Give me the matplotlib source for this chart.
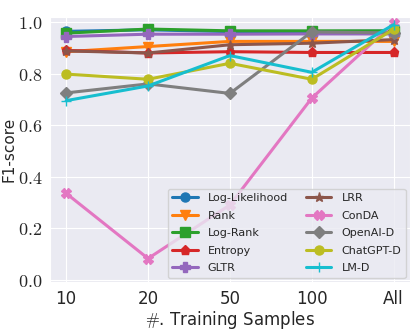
import matplotlib
matplotlib.use("Agg")
from matplotlib import pyplot as plt
import seaborn as sns

sns.set_style("darkgrid")
plt.rcParams['font.family'] = ['DejaVu Sans']
plt.rcParams['mathtext.fontset'] = 'cm'

# data
samples = ['10', '20', '50', '100', 'All']
methods = ['Log-Likelihood', 'Rank', 'Log-Rank', 'Entropy', 'GLTR',
           'LRR', 'ConDA', 'OpenAI-D', 'ChatGPT-D', 'LM-D']
log_likelihood = [0.964, 0.970, 0.963, 0.963, 0.965]
rank = [0.885, 0.905, 0.925, 0.925, 0.925]
log_rank = [0.957, 0.973, 0.966, 0.966, 0.966]
entropy = [0.890, 0.880, 0.885, 0.882, 0.882]
gltr = [0.944, 0.953, 0.953, 0.954, 0.954]
lrr = [0.888, 0.880, 0.912, 0.918, 0.932]
conda = [0.335, 0.082, 0.29, 0.705, 0.995]
openai_d = [0.725, 0.760, 0.723, 0.962, 0.958]
chatgpt_d = [0.798, 0.778, 0.840, 0.778, 0.972]
lm_d = [0.695, 0.752, 0.870, 0.805, 0.990]

series = [log_likelihood, rank, log_rank, entropy, gltr,
          lrr, conda, openai_d, chatgpt_d, lm_d]
markers = ['o', 'v', 's', 'p', 'P', '*', 'X', 'D', 'o', '+']

fig = plt.figure(figsize=(4.15, 3.32), dpi=100)
ax = fig.add_axes([0.12, 0.15, 0.868, 0.799])

x = range(len(samples))
for i, (name, vals) in enumerate(zip(methods, series)):
    ax.plot(x, vals, marker=markers[i], color='C%d' % i, label=name,
            linewidth=2.2, markersize=6.5)

ax.set_xticks(list(x))
ax.set_xticklabels(samples, fontsize=12)
ax.set_xlim(-0.2, 4.2)
ax.set_ylim(-0.01, 1.02)
yt = [0.0, 0.2, 0.4, 0.6, 0.8, 1.0]
ax.set_yticks(yt)
ax.set_yticklabels(['$%.1f$' % v for v in yt], fontsize=13)
ax.tick_params(axis='both', pad=2)

ax.set_xlabel(r'$\#$. Training Samples', fontsize=12, labelpad=1)
ax.set_ylabel('F1-score', fontsize=11, labelpad=1)

ax.legend(ncol=2, loc='lower right', fontsize=8, handlelength=2.3,
          columnspacing=1.6, labelspacing=0.68, borderaxespad=0.4,
          handletextpad=0.9)

plt.savefig("out.png", dpi=100)
